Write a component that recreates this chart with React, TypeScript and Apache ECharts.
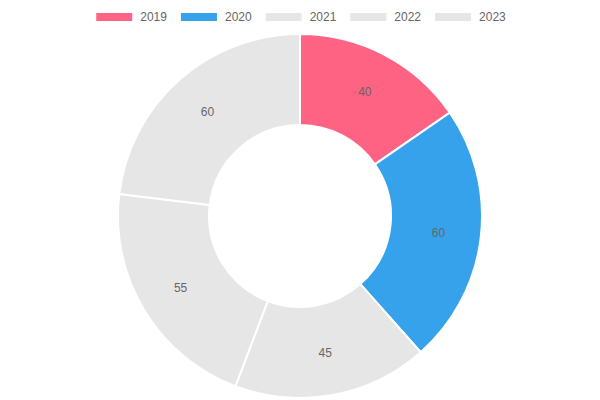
import React, { useEffect, useRef } from "react";
import * as echarts from "echarts";

const categories = ["2019", "2020", "2021", "2022", "2023"];
const values = [40, 60, 45, 55, 60];
const colors = ["#ff6384", "#36a2eb", "#e6e6e6", "#e6e6e6", "#e6e6e6"];

export default function App() {
  const ref = useRef<HTMLDivElement>(null);
  useEffect(() => {
    if (!ref.current) return;
    const chart = echarts.init(ref.current, null, { renderer: "svg" });
    chart.setOption({
      animation: false,
      legend: {
        top: 6,
        left: "center",
        icon: "rect",
        itemWidth: 38,
        itemHeight: 10,
        itemGap: 12,
        selectedMode: false,
        textStyle: {
          color: "#666",
          fontSize: 12,
          fontFamily: "Liberation Sans, Arial, Helvetica, sans-serif",
          padding: [0, 0, 0, 2],
        },
        data: categories,
      },
      series: [
        {
          type: "pie",
          center: [300, 216],
          radius: [91, 182],
          startAngle: 90,
          clockwise: true,
          avoidLabelOverlap: false,
          emphasis: { disabled: true },
          itemStyle: { borderColor: "#fff", borderWidth: 2 },
          label: {
            show: true,
            position: "inside",
            formatter: "{c}",
            color: "#666",
            fontSize: 12,
            fontFamily: "Liberation Sans, Arial, Helvetica, sans-serif",
          },
          labelLine: { show: false },
          data: categories.map((c, i) => ({
            name: c,
            value: values[i],
            itemStyle: { color: colors[i] },
          })),
        },
      ],
    });
    return () => chart.dispose();
  }, []);
  return (
    <div
      ref={ref}
      style={{ position: "fixed", left: 0, top: 0, width: 600, height: 400, background: "#fff" }}
    />
  );
}
